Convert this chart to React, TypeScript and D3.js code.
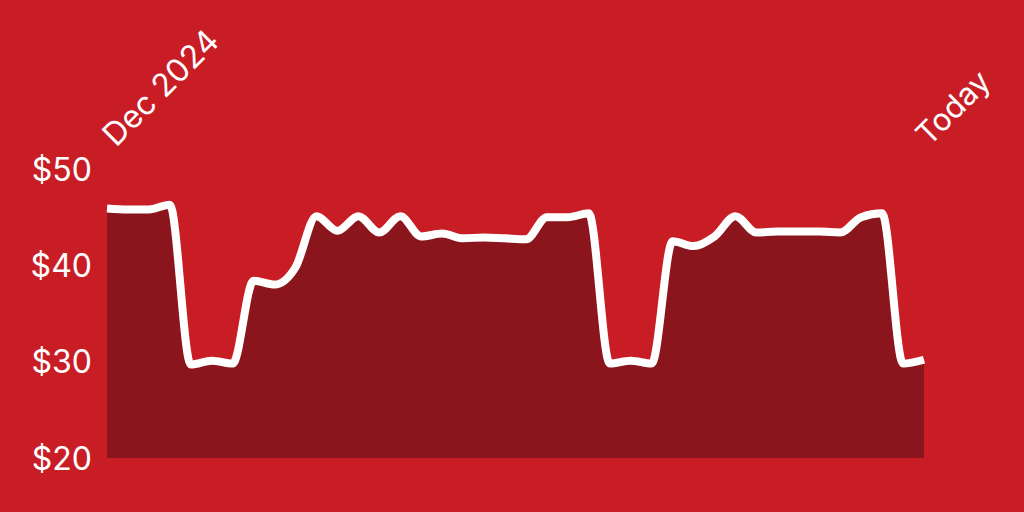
import React from "react";
import * as d3 from "d3";

const startDate = new Date(2024, 11, 1);
const weeks: number[] = [
  0, 1, 2, 3, 4, 5, 6, 7, 8, 9, 10, 11, 12, 13, 14, 15, 16, 17, 18, 19,
  20, 21, 22, 23, 24, 25, 26, 27, 28, 29, 30, 31, 32, 33, 34, 35, 36, 37, 38, 39,
];
const prices: number[] = [
  45.9, 45.8, 45.8, 46.3, 29.7, 30.1, 29.8, 38.4, 38.0, 39.8,
  45.1, 43.6, 45.1, 43.4, 45.1, 43.0, 43.3, 42.8, 42.9, 42.8,
  42.7, 45.0, 45.0, 45.4, 29.8, 30.1, 29.8, 42.5, 42.0, 43.0,
  45.1, 43.4, 43.5, 43.5, 43.5, 43.4, 45.0, 45.4, 29.8, 30.2,
];
const yTicks: number[] = [20, 30, 40, 50];
const startLabel = "Dec 2024";
const endLabel = "Today";

type Pt = { date: Date; value: number };
const data: Pt[] = weeks.map((w, i) => ({
  date: d3.timeWeek.offset(startDate, w),
  value: prices[i],
}));

const W = 1024;
const H = 512;
const BG = "#C91D26";
const AREA = "#8A151C";
const FONT = "Inter, 'Liberation Sans', Arial, sans-serif";

export default function App() {
  const x = d3
    .scaleTime()
    .domain(d3.extent(data, (d) => d.date) as [Date, Date])
    .range([107, 924]);
  const y = d3.scaleLinear().domain([20, 50]).range([458, 169]);

  const area = d3
    .area<Pt>()
    .x((d) => x(d.date))
    .y0(y(20))
    .y1((d) => y(d.value))
    .curve(d3.curveMonotoneX);
  const line = d3
    .line<Pt>()
    .x((d) => x(d.date))
    .y((d) => y(d.value))
    .curve(d3.curveMonotoneX);

  const first = data[0];
  const last = data[data.length - 1];

  return (
    <svg
      width={W}
      height={H}
      style={{ position: "absolute", left: 0, top: 0, display: "block" }}
    >
      <rect x={0} y={0} width={W} height={H} fill={BG} />
      <path d={area(data) || ""} fill={AREA} />
      <path
        d={line(data) || ""}
        fill="none"
        stroke="#fff"
        strokeWidth={8}
        strokeLinejoin="round"
        strokeLinecap="butt"
      />
      {yTicks.map((t) => (
        <text
          key={t}
          x={92}
          y={y(t)}
          textAnchor="end"
          dominantBaseline="central"
          fill="#fff"
          fontFamily={FONT}
          fontSize={32}
        >
          {"$" + t}
        </text>
      ))}
      <text
        transform={`translate(${x(first.date) + 9},148) rotate(-45)`}
        fill="#fff"
        fontFamily={FONT}
        fontSize={32}
      >
        {startLabel}
      </text>
      <text
        transform={`translate(${x(last.date) + 5},147) rotate(-45)`}
        fill="#fff"
        fontFamily={FONT}
        fontSize={31}
      >
        {endLabel}
      </text>
    </svg>
  );
}
